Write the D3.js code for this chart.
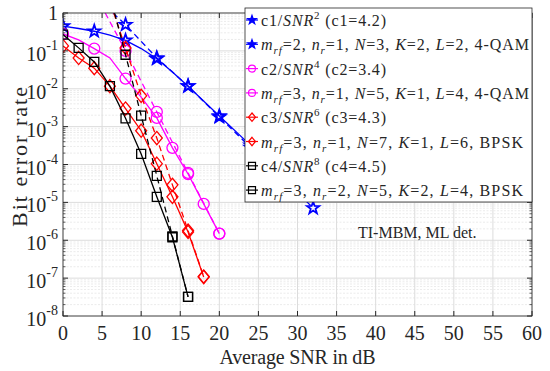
<!DOCTYPE html>
<html>
<head>
<meta charset="utf-8">
<script src="https://cdn.jsdelivr.net/npm/d3@7"></script>
<style>
  body { margin: 0; background: #fff; }
  text { font-family: "Liberation Serif", "Times New Roman", serif; fill: #262626; }
</style>
</head>
<body>
<svg id="chart" width="550" height="371"></svg>
<script>
// tick values
const snrTicks = [0, 5, 10, 15, 20, 25, 30, 35, 40, 45, 50, 55, 60];
const berExps = [0, -1, -2, -3, -4, -5, -6, -7, -8];

// theory curves c/SNR^d, [snr dB, ber]; first point is where the dashed line leaves the top
const theory1 = [[6.4, 1], [8, 0.49], [12, 0.065], [16, 0.0118], [20, 0.0018], [24, 2.8e-4], [28, 4.5e-5], [32, 7.1e-6]];
const theory2 = [[5.4, 1], [8, 0.1], [12, 0.00245], [16, 6e-5], [20, 1.5e-6]];
const theory3 = [[6.5, 1], [8, 0.12], [10, 0.0065], [12, 5e-4], [14, 2.9e-5], [16, 1.8e-6], [18, 1.1e-7]];
const theory4 = [[6.6, 1], [8, 0.079], [10, 0.00195], [12, 5e-5], [14, 1.26e-6], [16, 3.2e-8]];

// simulated curves
const sim1 = [[0, 0.45], [2, 0.39], [4, 0.33], [6, 0.26], [8, 0.19], [10, 0.115], [12, 0.062], [14, 0.0276], [16, 0.0117], [20, 0.0019], [24, 3.2e-4], [28, 5e-5]];
const sim1Marks = [0, 4, 8, 12, 16, 20, 24, 28];
const sim2 = [[0, 0.28], [2, 0.195], [4, 0.115], [6, 0.065], [8, 0.0186], [10, 0.006], [12, 0.0017], [14, 2.75e-4], [16, 5.6e-5], [18, 9.1e-6], [20, 1.5e-6]];
const sim2Marks = [0, 4, 8, 12, 14, 16, 18, 20];
const sim3 = [[0, 0.135], [2, 0.065], [4, 0.035], [6, 0.0117], [8, 0.003], [10, 7.8e-4], [12, 1.05e-4], [14, 1.4e-5], [16, 1.66e-6], [18, 1.07e-7]];
const sim3Marks = [0, 2, 4, 6, 8, 10, 12, 14, 16, 18];
const sim4 = [[0, 0.27], [2, 0.12], [4, 0.051], [6, 0.0117], [8, 0.00166], [10, 1.9e-4], [12, 1.4e-5], [14, 1.2e-6], [16, 3.2e-8]];
const sim4Marks = [0, 2, 4, 6, 8, 10, 12, 14, 16];

const legendLabels = [
  [['c1/'], ['SNR', 'i'], ['2', 'sup'], [' (c1=4.2)']],
  [['m', 'i'], ['rf', 'isub'], ['=2, '], ['n', 'i'], ['r', 'isub'], ['=1, '], ['N', 'i'], ['=3, '], ['K', 'i'], ['=2, '], ['L', 'i'], ['=2, 4-QAM']],
  [['c2/'], ['SNR', 'i'], ['4', 'sup'], [' (c2=3.4)']],
  [['m', 'i'], ['rf', 'isub'], ['=3, '], ['n', 'i'], ['r', 'isub'], ['=1, '], ['N', 'i'], ['=5, '], ['K', 'i'], ['=1, '], ['L', 'i'], ['=4, 4-QAM']],
  [['c3/'], ['SNR', 'i'], ['6', 'sup'], [' (c3=4.3)']],
  [['m', 'i'], ['rf', 'isub'], ['=3, '], ['n', 'i'], ['r', 'isub'], ['=1, '], ['N', 'i'], ['=7, '], ['K', 'i'], ['=1, '], ['L', 'i'], ['=6, BPSK']],
  [['c4/'], ['SNR', 'i'], ['8', 'sup'], [' (c4=4.5)']],
  [['m', 'i'], ['rf', 'isub'], ['=3, '], ['n', 'i'], ['r', 'isub'], ['=2, '], ['N', 'i'], ['=5, '], ['K', 'i'], ['=2, '], ['L', 'i'], ['=4, BPSK']]
];
const legendWidths = [125, 268, 125, 268, 125, 262, 125, 262];

const series = [
  { data: theory1, marks: null, color: '#0000ff', shape: 'star', dashed: true },
  { data: sim1, marks: sim1Marks, color: '#0000ff', shape: 'star', dashed: false },
  { data: theory2, marks: null, color: '#ff00ff', shape: 'circle', dashed: true },
  { data: sim2, marks: sim2Marks, color: '#ff00ff', shape: 'circle', dashed: false },
  { data: theory3, marks: null, color: '#ff0000', shape: 'diamond', dashed: true },
  { data: sim3, marks: sim3Marks, color: '#ff0000', shape: 'diamond', dashed: false },
  { data: theory4, marks: null, color: '#000000', shape: 'square', dashed: true },
  { data: sim4, marks: sim4Marks, color: '#000000', shape: 'square', dashed: false }
];

const margin = { top: 13, left: 63 };
const width = 469, height = 303;

const svg = d3.select('#chart');
const g = svg.append('g').attr('transform', `translate(${margin.left},${margin.top})`);

const x = d3.scaleLinear().domain([0, 60]).range([0, width]);
const y = d3.scaleLog().domain([1e-8, 1]).range([height, 0]);

g.append('rect').attr('width', width).attr('height', height).attr('fill', '#fff');

// minor grid
const minorVals = [];
berExps.slice(1).forEach(e => { for (let k = 2; k <= 9; k++) minorVals.push(k * Math.pow(10, e)); });
g.selectAll('.minor').data(minorVals).enter().append('line')
  .attr('x1', 0).attr('x2', width)
  .attr('y1', d => y(d)).attr('y2', d => y(d))
  .attr('stroke', '#e6e6e6').attr('stroke-width', 0.8).attr('stroke-dasharray', '2,1.5');

// major grid
g.selectAll('.gy').data(berExps).enter().append('line')
  .attr('x1', 0).attr('x2', width)
  .attr('y1', d => y(Math.pow(10, d))).attr('y2', d => y(Math.pow(10, d)))
  .attr('stroke', '#dcdcdc').attr('stroke-width', 1);
g.selectAll('.gx').data(snrTicks).enter().append('line')
  .attr('x1', d => x(d)).attr('x2', d => x(d))
  .attr('y1', 0).attr('y2', height)
  .attr('stroke', '#dcdcdc').attr('stroke-width', 1);

// clip
svg.append('clipPath').attr('id', 'plotClip').append('rect').attr('width', width).attr('height', height);
const plot = g.append('g').attr('clip-path', 'url(#plotClip)');

const line = d3.line().x(d => x(d[0])).y(d => y(d[1]));

function markerPath(shape, s) {
  if (shape === 'circle') return d3.symbol(d3.symbolCircle, Math.PI * s * s)();
  if (shape === 'square') return `M${-s},${-s}H${s}V${s}H${-s}Z`;
  if (shape === 'diamond') return `M0,${-s * 1.2}L${s},0L0,${s * 1.2}L${-s},0Z`;
  // five pointed star
  let p = '';
  for (let i = 0; i < 10; i++) {
    const r = i % 2 === 0 ? s * 1.45 : s * 0.58;
    const a = -Math.PI / 2 + i * Math.PI / 5;
    p += (i === 0 ? 'M' : 'L') + (r * Math.cos(a)).toFixed(2) + ',' + (r * Math.sin(a)).toFixed(2);
  }
  return p + 'Z';
}

const markSize = { star: 4.4, circle: 5.5, diamond: 5.5, square: 4.5 };

series.forEach(s => {
  plot.append('path').datum(s.data)
    .attr('d', line)
    .attr('fill', 'none')
    .attr('stroke', s.color)
    .attr('stroke-width', 1.3)
    .attr('stroke-dasharray', s.dashed ? '6,4' : null);
  const pts = s.marks ? s.data.filter(d => s.marks.includes(d[0])) : s.data.filter(d => d[1] < 1);
  plot.selectAll(null).data(pts).enter().append('path')
    .attr('transform', d => `translate(${x(d[0])},${y(d[1])})`)
    .attr('d', markerPath(s.shape, markSize[s.shape]))
    .attr('fill', 'none')
    .attr('stroke', s.color)
    .attr('stroke-width', s.shape === 'star' ? 1.8 : 1.3);
});

// axes box and inward ticks
const axisColor = '#262626';
g.append('rect').attr('width', width).attr('height', height)
  .attr('fill', 'none').attr('stroke', axisColor).attr('stroke-width', 0.8);
snrTicks.forEach(t => {
  g.append('line').attr('x1', x(t)).attr('x2', x(t)).attr('y1', height).attr('y2', height - 5).attr('stroke', axisColor);
  g.append('line').attr('x1', x(t)).attr('x2', x(t)).attr('y1', 0).attr('y2', 5).attr('stroke', axisColor);
});
berExps.forEach(e => {
  const yy = y(Math.pow(10, e));
  g.append('line').attr('x1', 0).attr('x2', 5).attr('y1', yy).attr('y2', yy).attr('stroke', axisColor);
  g.append('line').attr('x1', width).attr('x2', width - 5).attr('y1', yy).attr('y2', yy).attr('stroke', axisColor);
});
minorVals.forEach(v => {
  g.append('line').attr('x1', 0).attr('x2', 2.5).attr('y1', y(v)).attr('y2', y(v)).attr('stroke', axisColor).attr('stroke-width', 0.7);
  g.append('line').attr('x1', width).attr('x2', width - 2.5).attr('y1', y(v)).attr('y2', y(v)).attr('stroke', axisColor).attr('stroke-width', 0.7);
});

// tick labels
g.selectAll('.xl').data(snrTicks).enter().append('text')
  .attr('x', d => x(d)).attr('y', height + 24)
  .attr('text-anchor', 'middle').style('font-size', '20px')
  .text(d => d);

berExps.forEach(e => {
  const yy = y(Math.pow(10, e));
  const t = g.append('text').attr('x', -5).attr('y', e === 0 ? yy + 7 : yy + 10)
    .attr('text-anchor', 'end').style('font-size', '20px');
  if (e === 0) {
    t.text('1');
  } else {
    t.append('tspan').text('10');
    t.append('tspan').attr('dy', -11).style('font-size', '14px').text(e);
  }
});

// axis titles
svg.append('text')
  .attr('x', margin.left + width / 2).attr('y', 364)
  .attr('text-anchor', 'middle').style('font-size', '20px')
  .attr('textLength', 156)
  .text('Average SNR in dB');
svg.append('text')
  .attr('transform', 'translate(27,157) rotate(-90)')
  .attr('text-anchor', 'middle').style('font-size', '22px')
  .attr('textLength', 140)
  .text('Bit error rate');

// annotation
svg.append('text').attr('x', 358).attr('y', 238).style('font-size', '16px').text('TI-MBM, ML det.');

// legend
const legend = svg.append('g');
legend.append('rect').attr('x', 245).attr('y', 8).attr('width', 287).attr('height', 194)
  .attr('fill', '#fff').attr('stroke', axisColor).attr('stroke-width', 0.8);
legendLabels.forEach((parts, i) => {
  const s = series[i];
  const cy = 20 + i * 24.3;
  legend.append('line').attr('x1', 246).attr('x2', 258).attr('y1', cy).attr('y2', cy)
    .attr('stroke', s.color).attr('stroke-width', 1.2);
  legend.append('path').attr('transform', `translate(252,${cy})`)
    .attr('d', markerPath(s.shape, s.shape === 'star' ? 3.2 : 3.5))
    .attr('fill', s.shape === 'star' ? s.color : 'none')
    .attr('stroke', s.color).attr('stroke-width', 1.2);
  const t = legend.append('text').attr('x', 261).attr('y', cy + 6).style('font-size', '16px')
    .attr('textLength', legendWidths[i]).attr('lengthAdjust', 'spacing');
  let shift = 0;
  parts.forEach(([str, kind]) => {
    const sp = t.append('tspan').text(str);
    let target = 0;
    if (kind === 'i' || kind === 'isub') sp.style('font-style', 'italic');
    if (kind === 'sup') { sp.style('font-size', '11px'); target = -7; }
    if (kind === 'isub') { sp.style('font-size', '11px'); target = 4; }
    sp.attr('dy', target - shift);
    shift = target;
  });
});
</script>
</body>
</html>
